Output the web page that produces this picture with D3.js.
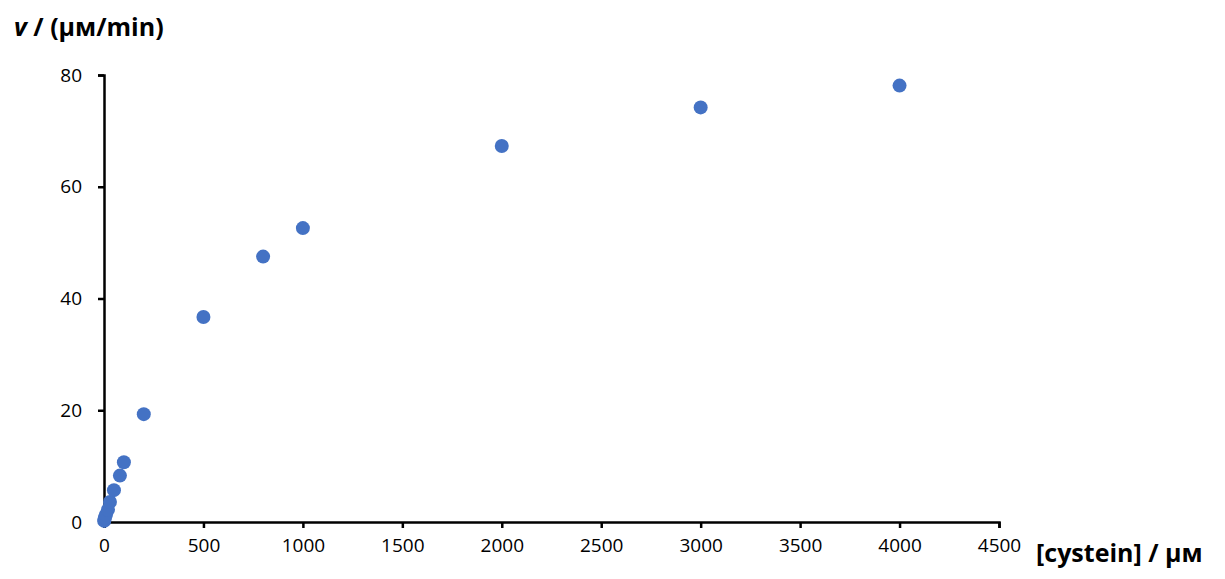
<!DOCTYPE html>
<html>
<head>
<meta charset="utf-8">
<script src="https://cdn.jsdelivr.net/npm/d3@7"></script>
<style>
  body { margin: 0; background: #fff; }
  text { font-family: "Open Sans", "Noto Sans", sans-serif; }
</style>
</head>
<body>
<div id="chart"></div>
<script>
// Data
const cysteine = [1, 2, 5, 10, 20, 30, 50, 80, 100, 200, 500, 800, 1000, 2000, 3000, 4000]
const rate = [0.2, 0.4, 0.8, 1.3, 2.2, 3.6, 5.7, 8.3, 10.7, 19.3, 36.7, 47.5, 52.6, 67.3, 74.2, 78.1]
const xTicks = [0, 500, 1000, 1500, 2000, 2500, 3000, 3500, 4000, 4500]
const yTicks = [0, 20, 40, 60, 80]

const dataset = cysteine.map((c, i) => ({ x: c, y: rate[i] }))

// Variables
let dimensions = {
  width: 1225,
  height: 579,
  margin: { top: 75, right: 226, bottom: 57, left: 104 },
}
dimensions.boundedWidth = dimensions.width - dimensions.margin.left - dimensions.margin.right
dimensions.boundedHeight = dimensions.height - dimensions.margin.top - dimensions.margin.bottom

const wrapper = d3.select("#chart")
  .append("svg")
  .attr("width", dimensions.width)
  .attr("height", dimensions.height)
const bounds = wrapper.append("g")
  .attr("transform", `translate(${dimensions.margin.left},${dimensions.margin.top})`)

// Scales
const xScale = d3.scaleLinear()
  .domain([0, 4500])
  .range([0, dimensions.boundedWidth])
const yScale = d3.scaleLinear()
  .domain([0, 80])
  .range([dimensions.boundedHeight, 0])

// Axes
const xAxis = bounds.append("g")
  .attr("transform", `translate(0,${dimensions.boundedHeight})`)
  .call(d3.axisBottom(xScale).tickValues(xTicks).tickFormat(d3.format("d")).tickSize(6).tickPadding(11))
const yAxis = bounds.append("g")
  .call(d3.axisLeft(yScale).tickValues(yTicks).tickFormat(d3.format("d")).tickSize(6).tickPadding(16))

;[xAxis, yAxis].forEach(axis => {
  axis.select(".domain").attr("stroke", "#000").attr("stroke-width", 2.5)
  axis.selectAll(".tick line").attr("stroke", "#000").attr("stroke-width", 2.5)
  axis.selectAll(".tick text")
    .attr("fill", "#000")
    .style("font-size", "19px")
    .style("font-family", "'Open Sans', sans-serif")
})

// Points
bounds.selectAll("circle")
  .data(dataset)
  .join("circle")
    .attr("cx", d => xScale(d.x))
    .attr("cy", d => yScale(d.y))
    .attr("r", 7)
    .attr("fill", "#4472c4")

// Labels
const yLabel = wrapper.append("text")
  .attr("x", 14)
  .attr("y", 36)
  .style("font-size", "25px")
  .style("font-weight", "bold")
yLabel.append("tspan").style("font-style", "italic").text("v")
yLabel.append("tspan").text(" / (μм/min)")

wrapper.append("text")
  .attr("x", 1036)
  .attr("y", 562)
  .style("font-size", "25px")
  .style("font-weight", "bold")
  .text("[cystein] / μм")
</script>
</body>
</html>
